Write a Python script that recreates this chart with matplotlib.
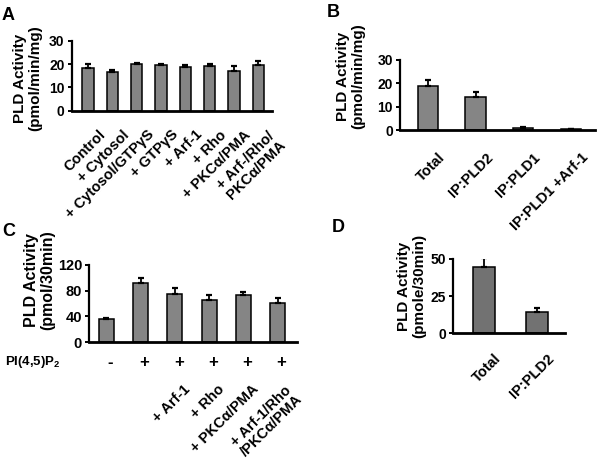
import numpy as np
import matplotlib
matplotlib.use('Agg')
import matplotlib.pyplot as plt

plt.rcParams['font.family'] = ['Liberation Sans', 'DejaVu Sans']
plt.rcParams['font.weight'] = 'bold'
plt.rcParams['mathtext.fontset'] = 'custom'
plt.rcParams['mathtext.rm'] = 'Liberation Sans:bold'
plt.rcParams['mathtext.it'] = 'Liberation Sans:bold'
plt.rcParams['mathtext.bf'] = 'Liberation Sans:bold'

NARROW = ['Liberation Sans Narrow', 'Liberation Sans', 'DejaVu Sans']

# panel A
a_labels = ['Control', '+ Cytosol', '+ Cytosol/GTPγS', '+ GTPγS', '+ Arf-1',
            '+ Rho', '+ PKCα/PMA', '+ Arf-/Rho/\nPKCα/PMA']
a_vals = [18.2, 16.7, 20.0, 19.7, 18.9, 19.3, 17.2, 19.7]
a_err = [1.8, 0.8, 0.6, 0.4, 0.7, 0.7, 2.0, 1.8]

# panel B
b_labels = ['Total', 'IP:PLD2', 'IP:PLD1', 'IP:PLD1 +Arf-1']
b_vals = [18.7, 14.4, 0.9, 0.5]
b_err = [2.8, 1.8, 0.3, 0.2]

# panel C
c_signs = ['-', '+', '+', '+', '+', '+']
c_labels = ['', '', '+ Arf-1', '+ Rho', '+ PKCα/PMA', '+ Arf-1/Rho\n/PKCα/PMA']
c_vals = [36, 92, 75, 66, 74, 60]
c_err = [2, 7, 9, 7, 4, 8]

# panel D
d_labels = ['Total', 'IP:PLD2']
d_vals = [44.6, 14.4]
d_err = [6.0, 2.5]


def bars(ax, vals, err, width, color):
    x = np.arange(len(vals))
    ax.bar(x, vals, width, color=color, edgecolor='black', linewidth=1.1, zorder=2)
    ax.errorbar(x, vals, yerr=[np.zeros(len(vals)), err], fmt='none', ecolor='black',
                elinewidth=1.3, capsize=2.5, capthick=1.6, zorder=3)
    return x


def style(ax, xlim, ylim, yticks, tsize):
    ax.set_xlim(xlim)
    ax.set_ylim(ylim)
    ax.set_yticks(yticks)
    ax.set_xticks([])
    ax.spines['top'].set_visible(False)
    ax.spines['right'].set_visible(False)
    ax.spines['left'].set_linewidth(1.6)
    ax.spines['bottom'].set_linewidth(2.0)
    ax.tick_params(axis='y', length=3, width=1.4, pad=2, labelsize=tsize)
    for t in ax.get_yticklabels():
        t.set_family(NARROW)
        t.set_weight('bold')


def xlabels(ax, x, labels, dx, dy, size):
    for xi, lab in zip(x, labels):
        ax.annotate(lab, xy=(xi, 0), xycoords=('data', 'axes fraction'),
                    xytext=(dx, dy), textcoords='offset pixels',
                    rotation=45, ha='right', va='top', rotation_mode='anchor',
                    multialignment='left',
                    fontsize=size, fontweight='bold', linespacing=1.0,
                    annotation_clip=False)


fig = plt.figure(figsize=(5.97, 4.59), dpi=100)

# A
ax1 = fig.add_axes([0.120, 0.7588, 0.335, 0.1519])
x = bars(ax1, a_vals, a_err, 0.47, '#858585')
style(ax1, (-0.67, 7.55), (0, 30), [0, 10, 20, 30], 10)
xlabels(ax1, x, a_labels, 10, -17, 10.5)
ax1.set_ylabel('PLD Activity\n(pmol/min/mg)', fontsize=11, fontweight='bold', linespacing=1.1)
ax1.yaxis.set_label_coords(-0.1485, 0.47)

# B
ax2 = fig.add_axes([0.670, 0.7161, 0.3267, 0.1532])
x = bars(ax2, b_vals, b_err, 0.42, '#858585')
style(ax2, (-0.58, 3.5), (0, 30), [0, 10, 20, 30], 10)
xlabels(ax2, x, b_labels, 10, -20, 10.5)
ax2.set_ylabel('PLD Activity\n(pmol/min/mg)', fontsize=11, fontweight='bold', linespacing=1.1)
ax2.yaxis.set_label_coords(-0.179, 0.772)

# C
ax3 = fig.add_axes([0.149, 0.2549, 0.3485, 0.1678])
x = bars(ax3, c_vals, c_err, 0.44, '#858585')
style(ax3, (-0.51, 5.57), (0, 120), [0, 40, 80, 120], 10.5)
xlabels(ax3, x, c_labels, 8, -40, 10.5)
for xi, s in zip(x, c_signs):
    ax3.annotate(s, xy=(xi, 0), xycoords=('data', 'axes fraction'),
                 xytext=(4, -20), textcoords='offset pixels',
                 ha='center', va='center', fontsize=12, fontweight='bold',
                 annotation_clip=False)
ax3.annotate('PI(4,5)P$_2$', xy=(0, 0), xycoords=('figure pixels', 'axes fraction'),
             xytext=(5, -20), textcoords='offset pixels', ha='left', va='center',
             fontsize=9.5, fontweight='bold', annotation_clip=False)
ax3.set_ylabel('PLD Activity\n(pmol/30min)', fontsize=11.5, fontweight='bold', linespacing=1.1)
ax3.yaxis.set_label_coords(-0.163, 0.805)

# D
ax4 = fig.add_axes([0.7593, 0.2739, 0.1871, 0.1619])
x = bars(ax4, d_vals, d_err, 0.41, '#727272')
style(ax4, (-0.58, 1.52), (0, 50), [0, 25, 50], 10)
xlabels(ax4, x, d_labels, 10, -18, 10.5)
ax4.set_ylabel('PLD Activity\n(pmole/30min)', fontsize=11, fontweight='bold', linespacing=1.1)
ax4.yaxis.set_label_coords(-0.244, 0.637)

# panel letters
for px, py, letter in [(2, 20, 'A'), (327, 17, 'B'), (2, 236, 'C'), (332, 232, 'D')]:
    fig.text(px / 597, 1 - py / 459, letter, fontsize=13, fontweight='bold', va='baseline')

fig.savefig('out.png', dpi=100)
